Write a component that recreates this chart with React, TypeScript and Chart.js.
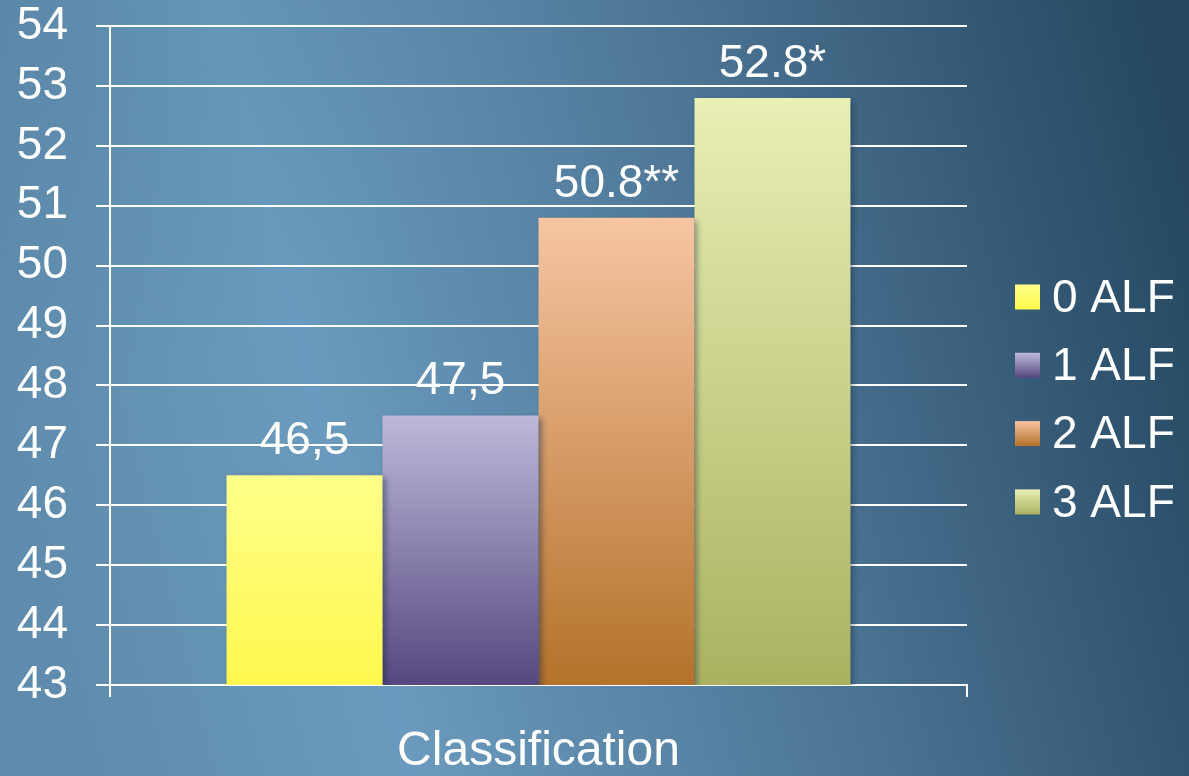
import React, { useEffect, useRef } from "react";
import { Chart, registerables } from "chart.js";

Chart.register(...registerables);

const categories = ["Classification"];
const seriesLabels = ["0 ALF", "1 ALF", "2 ALF", "3 ALF"];
const seriesValues = [46.5, 47.5, 50.8, 52.8];
const valueLabels = ["46,5", "47,5", "50.8**", "52.8*"];
const gradientTops = ["#ffff8a", "#bdb9d9", "#f7c5a3", "#e9efb5"];
const gradientBottoms = ["#fff84e", "#564880", "#b4722a", "#aab260"];
const yMin = 43;
const yMax = 54;

const FONT = "'Liberation Sans', Arial, sans-serif";

const bgPlugin = {
  id: "bg",
  beforeDraw(chart: any) {
    const { ctx, width, height } = chart;
    ctx.save();
    const g = ctx.createLinearGradient(0, 500, 1189, 200);
    g.addColorStop(0, "#5f8bac");
    g.addColorStop(0.27, "#6a9abd");
    g.addColorStop(0.6, "#4f7898");
    g.addColorStop(1, "#264862");
    ctx.fillStyle = g;
    ctx.fillRect(0, 0, width, height);
    const r = ctx.createRadialGradient(0, 0, 0, 0, 0, 420);
    r.addColorStop(0, "rgba(60,100,130,0.2)");
    r.addColorStop(1, "rgba(60,100,130,0)");
    ctx.fillStyle = r;
    ctx.fillRect(0, 0, width, height);
    ctx.restore();
  },
};

const shadowPlugin = {
  id: "barShadow",
  beforeDatasetsDraw(chart: any) {
    const ctx = chart.ctx;
    ctx.save();
    ctx.shadowColor = "rgba(20,40,60,0.45)";
    ctx.shadowBlur = 6;
    ctx.shadowOffsetX = 3;
    ctx.shadowOffsetY = 3;
  },
  afterDatasetsDraw(chart: any) {
    chart.ctx.restore();
  },
};

const labelPlugin = {
  id: "valueLabels",
  afterDatasetsDraw(chart: any) {
    const ctx = chart.ctx;
    ctx.save();
    ctx.fillStyle = "#ffffff";
    ctx.font = `46px ${FONT}`;
    ctx.textAlign = "center";
    ctx.textBaseline = "alphabetic";
    chart.data.datasets.forEach((ds: any, i: number) => {
      const meta = chart.getDatasetMeta(i);
      meta.data.forEach((bar: any) => {
        ctx.fillText(valueLabels[i], bar.x, bar.y - 21);
      });
    });
    ctx.restore();
  },
};

function makeGrad(ctx: any, i: number, top: number, bottom: number) {
  if (!isFinite(top) || !isFinite(bottom) || top === bottom) return gradientTops[i];
  const g = ctx.createLinearGradient(0, top, 0, bottom);
  g.addColorStop(0, gradientTops[i]);
  g.addColorStop(1, gradientBottoms[i]);
  return g;
}

const legendPlugin = {
  id: "customLegend",
  afterDraw(chart: any) {
    const ctx = chart.ctx;
    ctx.save();
    const x0 = 1015;
    const startY = 297;
    const step = 68.3;
    const box = 25;
    ctx.font = `46px ${FONT}`;
    ctx.textBaseline = "middle";
    ctx.textAlign = "left";
    chart.data.datasets.forEach((ds: any, i: number) => {
      const cy = startY + i * step;
      ctx.fillStyle = makeGrad(ctx, i, cy - box / 2, cy + box / 2);
      ctx.fillRect(x0, cy - box / 2, box, box);
      ctx.fillStyle = "#ffffff";
      ctx.fillText(ds.label, 1052, cy + 2);
    });
    ctx.restore();
  },
};

export default function App() {
  const ref = useRef<HTMLCanvasElement>(null);

  useEffect(() => {
    document.body.style.margin = "0";
    const canvas = ref.current!;
    const chart = new Chart(canvas, {
      type: "bar",
      data: {
        labels: categories,
        datasets: seriesLabels.map((label, i) => ({
          label,
          data: [seriesValues[i]],
          backgroundColor: (c: any) => {
            const ch = c.chart;
            const ys = ch.scales?.y;
            if (!ys || c.type !== "data") return gradientTops[i];
            const top = ys.getPixelForValue(seriesValues[i]);
            const bottom = ys.getPixelForValue(yMin);
            return makeGrad(ch.ctx, i, top, bottom);
          },
          borderWidth: 0,
          categoryPercentage: 0.728,
          barPercentage: 1,
        })),
      },
      options: {
        responsive: false,
        animation: false,
        maintainAspectRatio: false,
        layout: { padding: { top: 26, right: 222, bottom: 0, left: 0 } },
        plugins: {
          legend: { display: false },
          tooltip: { enabled: false },
        },
        scales: {
          x: {
            offset: true,
            border: { display: true, color: "#ffffff", width: 2 },
            grid: {
              display: true,
              drawOnChartArea: false,
              drawTicks: true,
              tickLength: 12,
              color: "#ffffff",
              lineWidth: 2,
              offset: true,
            },
            ticks: { display: false },
            title: {
              display: true,
              text: "Classification",
              color: "#ffffff",
              font: { size: 48, family: FONT, lineHeight: 1 },
              padding: { top: 31, bottom: 0 },
            },
          },
          y: {
            min: yMin,
            max: yMax,
            border: { display: true, color: "#ffffff", width: 2 },
            grid: {
              color: "#ffffff",
              lineWidth: 2,
              tickLength: 14,
            },
            ticks: {
              stepSize: 1,
              color: "#ffffff",
              padding: 28,
              font: { size: 46, family: FONT, lineHeight: 1 },
            },
            afterFit: (s: any) => {
              s.width = 110;
              s.paddingTop = 0;
              s.paddingBottom = 0;
            },
          },
        },
      },
      plugins: [bgPlugin, shadowPlugin, labelPlugin, legendPlugin],
    } as any);
    return () => chart.destroy();
  }, []);

  return (
    <div style={{ width: 1189, height: 776 }}>
      <canvas ref={ref} width={1189} height={776} style={{ display: "block" }} />
    </div>
  );
}
